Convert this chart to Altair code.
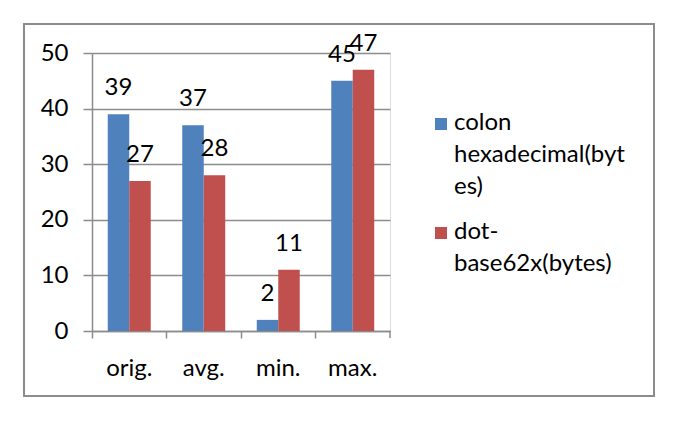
import altair as alt
import pandas as pd

categories = ["orig.", "avg.", "min.", "max."]
series = ["colon hexadecimal(bytes)", "dot-base62x(bytes)"]
colon_hex = [39, 37, 2, 45]
dot_base62x = [27, 28, 11, 47]
y_ticks = [0, 10, 20, 30, 40, 50]
colors = ["#4F81BD", "#C0504D"]

rows = []
for i, c in enumerate(categories):
    rows.append({"category": c, "series": series[0], "value": colon_hex[i]})
    rows.append({"category": c, "series": series[1], "value": dot_base62x[i]})
df = pd.DataFrame(rows)

FONT = "Lato"
FS = 24
GRAY = "#8c8c8c"
SHIFT = 6  # dy applied to all guide labels (aligns multi-line legend labels)

x_enc = alt.X(
    "category:N",
    sort=categories,
    scale=alt.Scale(paddingInner=0, paddingOuter=0),
    axis=alt.Axis(
        title=None, bandPosition=0, labelAngle=0, grid=False,
        domainColor=GRAY, tickColor=GRAY, tickSize=7, domainWidth=1.5, tickWidth=1.5,
        labelFont=FONT, labelFontSize=FS, labelColor="black", labelPadding=18 - SHIFT,
    ),
)
xo_enc = alt.XOffset("series:N", sort=series,
                     scale=alt.Scale(paddingInner=0, paddingOuter=0.733))
y_enc = alt.Y(
    "value:Q",
    scale=alt.Scale(domain=[0, 50], nice=False),
    axis=alt.Axis(
        title=None, values=y_ticks, grid=True, gridColor=GRAY, gridWidth=1.5,
        domainColor=GRAY, tickColor=GRAY, tickSize=9, domainWidth=1.5, tickWidth=1.5,
        labelFont=FONT, labelFontSize=FS, labelColor="black", labelPadding=15,
        labelOffset=-SHIFT,
    ),
)
color_enc = alt.Color(
    "series:N",
    sort=series,
    scale=alt.Scale(domain=series, range=colors),
    legend=alt.Legend(
        title=None, orient="none", legendX=337, legendY=59, padding=0,
        symbolType="square", symbolSize=144, symbolStrokeWidth=0,
        labelFont=FONT, labelFontSize=FS, labelColor="black", labelOffset=1,
        labelBaseline="alphabetic", labelLimit=0, rowPadding=21,
        labelExpr="datum.label == 'colon hexadecimal(bytes)' ? ['colon', 'hexadecimal(byt', 'es)'] : ['dot-', 'base62x(bytes)']",
    ),
)

base = alt.Chart(df)
bars = base.mark_bar().encode(x=x_enc, xOffset=xo_enc, y=y_enc, color=color_enc)
labels = base.mark_text(baseline="alphabetic", dy=-19, font=FONT, fontSize=FS,
                        color="black").encode(
    x=x_enc, xOffset=xo_enc, y=y_enc, text="value:Q")

end_tick = alt.Chart(pd.DataFrame({"a": [0]})).mark_rule(
    color=GRAY, strokeWidth=1.5).encode(
    x=alt.value(298), y=alt.value(278), y2=alt.value(285))

border = alt.Chart(pd.DataFrame({"a": [0]})).mark_rect(
    fill="transparent", stroke=GRAY, strokeWidth=2).encode(
    x=alt.value(-68), x2=alt.value(562), y=alt.value(-29), y2=alt.value(343))

chart = alt.layer(border, bars, labels, end_tick).properties(
    width=298, height=278,
    autosize=alt.AutoSizeParams(type="none"),
    padding={"left": 84, "top": 45, "right": 287, "bottom": 86},
).configure_view(strokeWidth=0).configure(
    style={"guide-label": {"lineHeight": 32, "dy": SHIFT}}
)

chart.save("out.html", embed_options={"renderer": "svg", "actions": False})
